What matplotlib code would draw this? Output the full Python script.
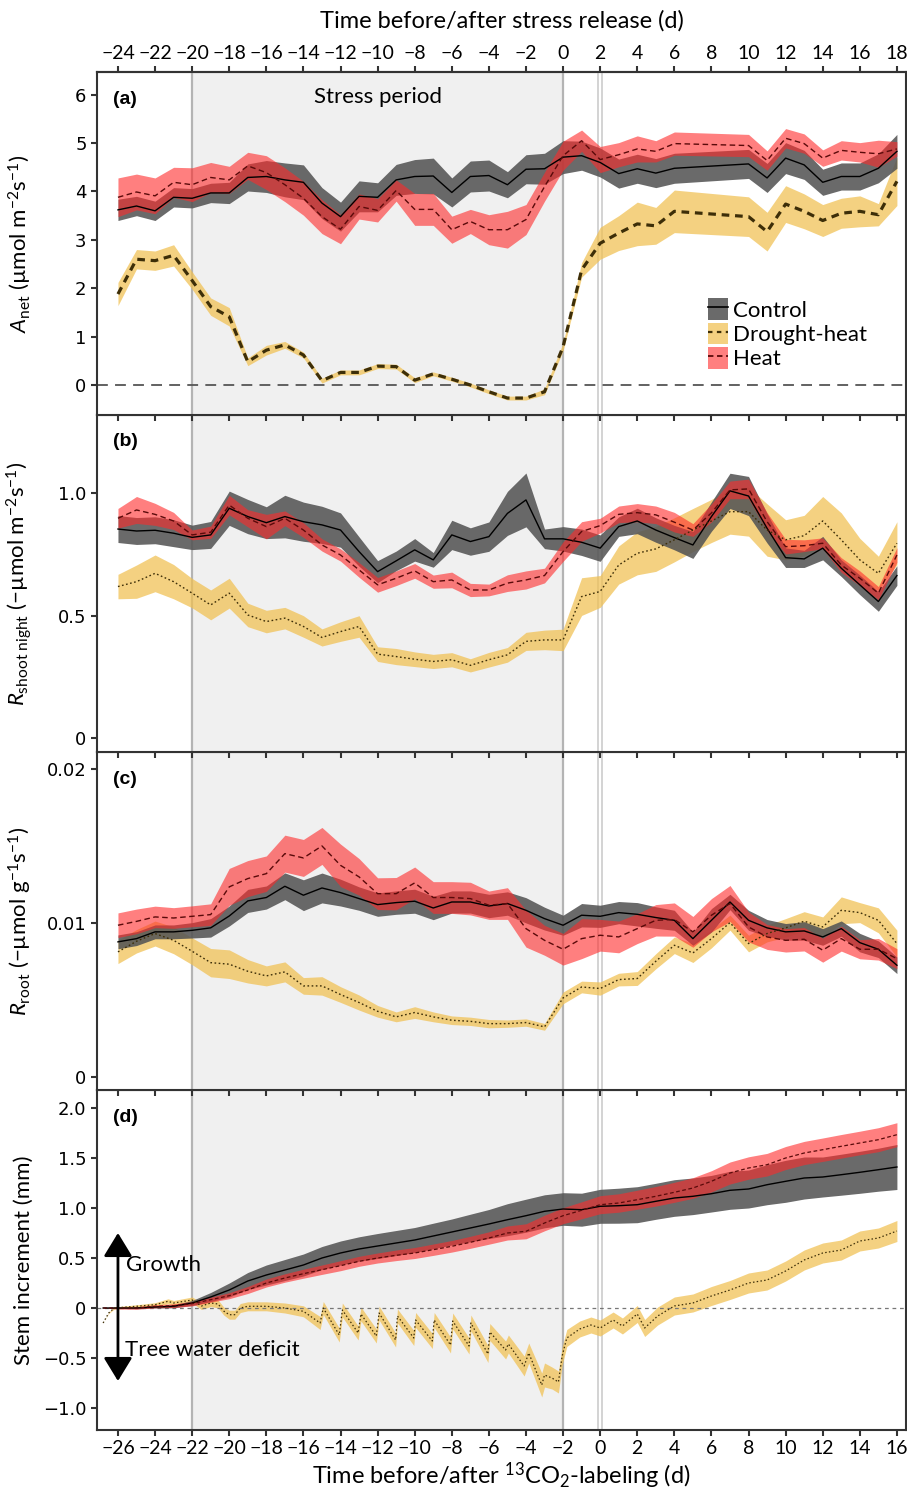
import matplotlib
matplotlib.use('Agg')
import matplotlib.pyplot as plt
import numpy as np
from matplotlib.patches import Patch
from matplotlib.lines import Line2D

plt.rcParams['font.family'] = ['Lato', 'DejaVu Sans']
plt.rcParams['mathtext.fontset'] = 'custom'
plt.rcParams['mathtext.rm'] = 'Lato'
plt.rcParams['mathtext.it'] = 'Lato:italic'
plt.rcParams['mathtext.bf'] = 'Lato:bold'
plt.rcParams['axes.unicode_minus'] = True

# ---------------- data ----------------
# panel (a): net assimilation
days_a = [-26, -25, -24, -23, -22, -21, -20, -19, -18, -17, -16, -15, -14, -13, -12, -11, -10, -9, -8,
          -7, -6, -5, -4, -3, -2, -1, 0, 1, 2, 3, 4, 8, 9, 10, 11, 12, 13, 14, 15, 16]
ctrl_a = [3.62, 3.70, 3.60, 3.88, 3.86, 3.97, 3.97, 4.29, 4.31, 4.24, 4.19, 3.76, 3.48, 3.90, 3.88, 4.24,
          4.31, 4.32, 3.98, 4.31, 4.33, 4.14, 4.46, 4.47, 4.71, 4.74, 4.60, 4.37, 4.47, 4.38, 4.48,
          4.57, 4.28, 4.69, 4.55, 4.19, 4.31, 4.31, 4.48, 4.83]
ctrl_a_err = [0.22, 0.20, 0.20, 0.20, 0.20, 0.20, 0.22, 0.28, 0.33, 0.35, 0.36, 0.32, 0.30, 0.32, 0.30,
              0.32, 0.35, 0.37, 0.30, 0.32, 0.32, 0.27, 0.30, 0.32, 0.34, 0.30, 0.30, 0.30, 0.30, 0.30,
              0.31, 0.30, 0.30, 0.32, 0.30, 0.27, 0.28, 0.28, 0.30, 0.35]
heat_a = [3.88, 3.99, 3.91, 4.19, 4.14, 4.29, 4.24, 4.53, 4.39, 4.14, 3.86, 3.48, 3.22, 3.69, 3.61, 4.02,
          3.63, 3.63, 3.21, 3.38, 3.21, 3.21, 3.42, 4.10, 4.74, 5.05, 4.66, 4.76, 4.88, 4.83, 4.99,
          4.95, 4.64, 5.10, 4.99, 4.69, 4.85, 4.81, 4.78, 4.88]
heat_a_err = [0.40, 0.37, 0.37, 0.31, 0.35, 0.31, 0.28, 0.28, 0.35, 0.35, 0.35, 0.35, 0.30, 0.26, 0.24,
              0.22, 0.33, 0.33, 0.28, 0.25, 0.31, 0.38, 0.31, 0.30, 0.30, 0.22, 0.27, 0.25, 0.27, 0.22,
              0.24, 0.23, 0.20, 0.20, 0.20, 0.17, 0.20, 0.20, 0.28, 0.15]
drou_a = [1.88, 2.60, 2.57, 2.68, 2.16, 1.62, 1.41, 0.48, 0.72, 0.83, 0.62, 0.09, 0.26, 0.26, 0.39, 0.38,
          0.10, 0.23, 0.12, 0.00, -0.14, -0.27, -0.27, -0.14, 0.79, 2.38, 2.93, 3.14, 3.33, 3.29, 3.59,
          3.48, 3.17, 3.74, 3.59, 3.40, 3.55, 3.59, 3.52, 4.21]
drou_a_err = [0.24, 0.20, 0.20, 0.22, 0.18, 0.18, 0.19, 0.08, 0.10, 0.07, 0.06, 0.05, 0.05, 0.05, 0.05,
              0.05, 0.05, 0.04, 0.04, 0.04, 0.04, 0.04, 0.04, 0.06, 0.08, 0.15, 0.33, 0.36, 0.45, 0.38,
              0.44, 0.41, 0.40, 0.38, 0.36, 0.33, 0.31, 0.32, 0.23, 0.50]

# panels (b) and (c): daily
days_bc = list(range(-26, 17))
ctrl_b = [0.854, 0.846, 0.849, 0.837, 0.820, 0.830, 0.939, 0.905, 0.880, 0.905, 0.884, 0.871, 0.850,
          0.762, 0.680, 0.724, 0.769, 0.728, 0.830, 0.803, 0.823, 0.918, 0.973, 0.814, 0.814, 0.800,
          0.776, 0.864, 0.887, 0.850, 0.819, 0.789, 0.905, 1.010, 0.989, 0.857, 0.737, 0.732, 0.776,
          0.694, 0.626, 0.558, 0.664]
ctrl_b_err = [0.055, 0.055, 0.055, 0.055, 0.050, 0.055, 0.070, 0.070, 0.065, 0.087, 0.080, 0.076, 0.070,
              0.060, 0.045, 0.040, 0.046, 0.030, 0.060, 0.056, 0.060, 0.090, 0.110, 0.040, 0.050, 0.054,
              0.054, 0.040, 0.052, 0.050, 0.050, 0.055, 0.060, 0.072, 0.080, 0.060, 0.040, 0.035, 0.048,
              0.034, 0.040, 0.040, 0.040]
heat_b = [0.898, 0.932, 0.914, 0.887, 0.830, 0.841, 0.952, 0.898, 0.864, 0.898, 0.850, 0.789, 0.748,
          0.687, 0.626, 0.653, 0.683, 0.639, 0.646, 0.605, 0.605, 0.633, 0.646, 0.664, 0.762, 0.844,
          0.868, 0.914, 0.921, 0.912, 0.882, 0.850, 0.920, 1.014, 1.018, 0.884, 0.782, 0.786, 0.796,
          0.707, 0.653, 0.592, 0.748]
heat_b_err = [0.040, 0.055, 0.045, 0.035, 0.020, 0.025, 0.040, 0.035, 0.050, 0.030, 0.030, 0.025, 0.025,
              0.030, 0.030, 0.030, 0.030, 0.027, 0.032, 0.027, 0.024, 0.034, 0.037, 0.030, 0.040, 0.040,
              0.030, 0.034, 0.037, 0.036, 0.040, 0.026, 0.037, 0.036, 0.040, 0.037, 0.030, 0.024, 0.022,
              0.030, 0.030, 0.027, 0.030]
drou_b = [0.619, 0.639, 0.673, 0.639, 0.592, 0.544, 0.592, 0.503, 0.476, 0.490, 0.456, 0.411, 0.435,
          0.456, 0.343, 0.333, 0.322, 0.313, 0.320, 0.297, 0.320, 0.340, 0.395, 0.401, 0.401, 0.578,
          0.599, 0.707, 0.755, 0.773, 0.810, 0.850, 0.887, 0.925, 0.925, 0.850, 0.810, 0.827, 0.887,
          0.810, 0.728, 0.673, 0.796]
drou_b_err = [0.050, 0.068, 0.075, 0.070, 0.060, 0.061, 0.061, 0.048, 0.046, 0.044, 0.044, 0.035, 0.040,
              0.044, 0.030, 0.033, 0.030, 0.029, 0.029, 0.027, 0.030, 0.030, 0.037, 0.040, 0.044, 0.077,
              0.065, 0.078, 0.088, 0.092, 0.090, 0.088, 0.088, 0.092, 0.100, 0.107, 0.082, 0.083, 0.100,
              0.110, 0.088, 0.070, 0.088]

# panel (c) values in 1e-3 umol g-1 s-1
ctrl_c = [8.77, 8.98, 9.42, 9.42, 9.52, 9.68, 10.45, 11.43, 11.65, 12.38, 11.80, 12.27, 11.97, 11.58,
          11.19, 11.32, 11.41, 10.97, 11.36, 11.36, 11.10, 11.26, 10.82, 10.28, 9.85, 10.50, 10.43,
          10.67, 10.56, 10.35, 10.17, 8.98, 10.17, 11.36, 10.17, 9.68, 9.42, 9.48, 9.09, 9.63, 8.72,
          8.29, 7.25]
ctrl_c_err = [0.45, 0.45, 0.45, 0.45, 0.50, 0.60, 0.65, 0.75, 0.75, 0.87, 1.00, 0.97, 0.87, 0.76, 0.76,
              0.76, 0.78, 0.76, 0.72, 0.72, 0.76, 0.76, 0.82, 0.74, 0.65, 0.76, 0.72, 0.72, 0.76, 0.70,
              0.65, 0.43, 0.76, 0.50, 0.65, 0.54, 0.54, 0.60, 0.54, 0.50, 0.60, 0.54, 0.54]
heat_c = [9.85, 10.10, 10.39, 10.32, 10.43, 10.54, 12.34, 12.88, 13.20, 14.50, 14.22, 15.00, 13.74,
          12.99, 11.90, 11.90, 12.60, 11.65, 11.65, 11.58, 11.15, 11.26, 9.63, 8.87, 8.29, 8.98, 9.20,
          9.09, 9.63, 10.17, 10.22, 9.42, 10.50, 11.26, 9.74, 9.09, 8.87, 8.94, 8.23, 8.98, 8.29, 8.29,
          7.68]
heat_c_err = [0.80, 0.80, 0.70, 0.67, 0.68, 0.70, 1.20, 1.17, 1.15, 1.20, 1.20, 1.20, 1.38, 1.19, 1.03,
              1.05, 1.03, 1.03, 1.03, 1.06, 0.92, 1.03, 1.20, 0.97, 1.03, 1.30, 1.03, 1.03, 0.97, 1.02,
              1.08, 1.00, 1.08, 1.17, 0.97, 0.81, 0.76, 0.76, 0.78, 0.81, 0.62, 0.70, 0.65]
drou_c = [8.12, 8.81, 9.31, 8.87, 8.16, 7.42, 7.32, 6.86, 6.56, 6.82, 5.91, 5.91, 5.35, 4.83, 4.26, 3.90,
          4.18, 3.90, 3.68, 3.61, 3.46, 3.46, 3.53, 3.25, 5.13, 5.84, 5.74, 6.32, 6.39, 7.51, 8.55, 8.05,
          8.98, 10.02, 8.66, 9.31, 9.68, 10.11, 9.74, 10.82, 10.67, 10.17, 8.66]
drou_c_err = [0.76, 0.76, 0.81, 0.87, 0.87, 0.92, 0.93, 0.76, 0.65, 0.65, 0.54, 0.60, 0.51, 0.49, 0.38,
              0.32, 0.38, 0.32, 0.28, 0.27, 0.27, 0.24, 0.24, 0.22, 0.38, 0.38, 0.43, 0.41, 0.45, 0.49,
              0.54, 0.62, 0.60, 0.49, 0.54, 0.54, 0.60, 0.62, 0.65, 0.87, 0.65, 0.81, 0.87]

# panel (d): stem increment
days_d = [-26.8] + list(range(-26, 17))
ctrl_d = [0.0, 0.0, 0.0, 0.01, 0.017, 0.05, 0.11, 0.18, 0.27, 0.33, 0.38, 0.43, 0.50, 0.55, 0.59, 0.62,
          0.65, 0.68, 0.72, 0.76, 0.80, 0.84, 0.883, 0.923, 0.967, 0.99, 0.983, 1.017, 1.023, 1.033,
          1.067, 1.10, 1.117, 1.143, 1.177, 1.19, 1.233, 1.267, 1.30, 1.31, 1.333, 1.357, 1.383, 1.41]
ctrl_d_err = [0.0, 0.005, 0.008, 0.01, 0.015, 0.025, 0.045, 0.07, 0.085, 0.10, 0.105, 0.11, 0.115, 0.12,
              0.122, 0.125, 0.125, 0.125, 0.128, 0.13, 0.138, 0.145, 0.16, 0.165, 0.165, 0.163, 0.165,
              0.17, 0.175, 0.18, 0.18, 0.183, 0.183, 0.183, 0.19, 0.19, 0.20, 0.21, 0.21, 0.20, 0.205,
              0.21, 0.215, 0.225]
heat_d = [0.0, 0.0, 0.0, 0.017, 0.023, 0.043, 0.083, 0.123, 0.18, 0.25, 0.30, 0.343, 0.383, 0.423, 0.467,
          0.50, 0.527, 0.55, 0.583, 0.617, 0.657, 0.70, 0.75, 0.767, 0.85, 0.923, 0.977, 1.033, 1.05,
          1.083, 1.117, 1.157, 1.20, 1.267, 1.35, 1.40, 1.433, 1.50, 1.55, 1.583, 1.617, 1.65, 1.683, 1.733]
heat_d_err = [0.0, 0.01, 0.012, 0.015, 0.018, 0.022, 0.025, 0.03, 0.035, 0.04, 0.042, 0.045, 0.047, 0.05,
              0.05, 0.05, 0.053, 0.055, 0.057, 0.058, 0.06, 0.062, 0.07, 0.075, 0.078, 0.08, 0.085, 0.09,
              0.092, 0.095, 0.098, 0.10, 0.103, 0.106, 0.11, 0.112, 0.113, 0.115, 0.116, 0.117, 0.118,
              0.118, 0.12, 0.12]
days_dd = [-26.8, -26.5, -26.2, -25.0, -24.0, -23.3, -23.0, -22.0, -21.5, -21.0, -20.6, -20.3, -20.0,
           -19.7, -19.4, -19.0, -18.0, -17.0, -16.0, -15.1, -14.93, -14.07, -13.9, -13.05, -12.9, -12.07,
           -11.92, -11.03, -10.93, -10.05, -9.95, -9.05, -8.95, -8.07, -7.95, -7.07, -6.97, -6.05, -5.95,
           -5.1, -4.95, -4.1, -3.85, -3.15, -3.0, -2.6, -2.25, -2.05, -1.8, -1.1, -0.5, 0.0, 0.7, 1.2,
           2.0, 2.4, 3.1, 4.0, 5.0, 6.0, 7.0, 8.0, 9.0, 10.0, 11.0, 12.0, 13.0, 14.0, 15.0, 16.0]
drou_d = [-0.15, -0.05, 0.0, 0.017, 0.033, 0.067, 0.05, 0.08, 0.02, 0.05, 0.04, -0.03, -0.067, -0.067,
          0.0, 0.017, 0.017, 0.0, -0.033, -0.15, 0.0, -0.27, -0.02, -0.25, -0.06, -0.28, -0.05, -0.32,
          -0.08, -0.30, -0.12, -0.33, -0.12, -0.37, -0.13, -0.38, -0.15, -0.46, -0.24, -0.42, -0.36,
          -0.58, -0.45, -0.77, -0.67, -0.70, -0.74, -0.48, -0.30, -0.21, -0.17, -0.20, -0.12, -0.18,
          -0.06, -0.20, -0.08, 0.02, 0.05, 0.12, 0.18, 0.25, 0.28, 0.37, 0.48, 0.55, 0.58, 0.67, 0.70, 0.77]
drou_d_err = [0.0, 0.005, 0.01, 0.015, 0.02, 0.025, 0.025, 0.03, 0.035, 0.035, 0.04, 0.04, 0.045, 0.045,
              0.045, 0.045, 0.045, 0.05, 0.055, 0.065, 0.065, 0.07, 0.07, 0.07, 0.07, 0.07, 0.07,
              0.07, 0.07, 0.075, 0.075, 0.075, 0.075, 0.08, 0.08, 0.08, 0.08, 0.085, 0.085, 0.09, 0.09,
              0.1, 0.1, 0.12, 0.12, 0.11, 0.11, 0.09, 0.085, 0.08, 0.08, 0.08, 0.08, 0.08, 0.085, 0.085,
              0.09, 0.09, 0.09, 0.095, 0.095, 0.1, 0.1, 0.1, 0.1, 0.1, 0.1, 0.1, 0.1, 0.105]

bottom_ticks = list(range(-26, 17, 2))
top_ticks = list(range(-24, 19, 2))
series_labels = ['Control', 'Drought-heat', 'Heat']

# ---------------- styles ----------------
C_BAND, C_ALPHA = '#555555', 0.88
H_BAND, H_ALPHA = '#ff2a2a', 0.6
D_BAND, D_ALPHA = '#f0c050', 0.72
C_LINE = 'black'
H_LINE = '#5a0a0a'
D_LINE = '#3d2e08'
SPINE = '#333333'


def fmt(v):
    s = ('%g' % v)
    return s.replace('-', '\u2212')


fig = plt.figure(figsize=(9.07, 14.94), dpi=100)
L, W = 97 / 907, 809 / 907


def pos(top, bottom):
    return [L, 1 - bottom / 1494, W, (bottom - top) / 1494]


ax_a = fig.add_axes(pos(72, 415), zorder=4)
ax_b = fig.add_axes(pos(415, 752), zorder=3)
ax_c = fig.add_axes(pos(752, 1090), zorder=2)
ax_d = fig.add_axes(pos(1090, 1430), zorder=1)
axes = [ax_a, ax_b, ax_c, ax_d]

for ax in axes:
    ax.set_xlim(-27.13, 16.49)
    ax.axvspan(-22, -2, color='#f0f0f0', zorder=0, lw=0)
    for xv in (-22, -2):
        ax.axvline(xv, color='#b4b4b4', lw=1.6, zorder=0.5)
    for xv in (-0.12, 0.12):
        ax.axvline(xv, color='#c8c8c8', lw=1.1, zorder=0.5)
    for sp in ax.spines.values():
        sp.set_color(SPINE)
        sp.set_linewidth(1.5)
    ax.set_xticks(bottom_ticks)
    ax.tick_params(axis='both', direction='out', length=4, width=1.5, color=SPINE)
    ax.tick_params(axis='x', labelbottom=False)


def bands(ax, x, m, e, col, alpha, z, scale=1.0):
    m = np.asarray(m) * scale
    e = np.asarray(e) * scale
    ax.fill_between(x, m - e, m + e, color=col, alpha=alpha, lw=0, zorder=z)


# (a)
bands(ax_a, days_a, drou_a, drou_a_err, D_BAND, D_ALPHA, 1)
bands(ax_a, days_a, ctrl_a, ctrl_a_err, C_BAND, C_ALPHA, 2)
bands(ax_a, days_a, heat_a, heat_a_err, H_BAND, H_ALPHA, 3)
ax_a.axhline(0, color='#555555', lw=1.3, dashes=(6, 4), zorder=1.5)
ax_a.plot(days_a, ctrl_a, color=C_LINE, lw=1.0, zorder=5)
ax_a.plot(days_a, heat_a, color=H_LINE, lw=1.0, dashes=(4, 2.5), zorder=5)
ax_a.plot(days_a, drou_a, color=D_LINE, lw=2.3, dashes=(2.4, 1.8), zorder=5)

# (b)
bands(ax_b, days_bc, drou_b, drou_b_err, D_BAND, D_ALPHA, 1)
bands(ax_b, days_bc, ctrl_b, ctrl_b_err, C_BAND, C_ALPHA, 2)
bands(ax_b, days_bc, heat_b, heat_b_err, H_BAND, H_ALPHA, 3)
ax_b.plot(days_bc, ctrl_b, color=C_LINE, lw=1.0, zorder=5)
ax_b.plot(days_bc, heat_b, color=H_LINE, lw=1.0, dashes=(4, 2.5), zorder=5)
ax_b.plot(days_bc, drou_b, color=D_LINE, lw=1.0, dashes=(1.2, 1.8), zorder=5)

# (c)
sc = 1e-3
bands(ax_c, days_bc, drou_c, drou_c_err, D_BAND, D_ALPHA, 1, sc)
bands(ax_c, days_bc, ctrl_c, ctrl_c_err, C_BAND, C_ALPHA, 2, sc)
bands(ax_c, days_bc, heat_c, heat_c_err, H_BAND, H_ALPHA, 3, sc)
ax_c.plot(days_bc, np.asarray(ctrl_c) * sc, color=C_LINE, lw=1.0, zorder=5)
ax_c.plot(days_bc, np.asarray(heat_c) * sc, color=H_LINE, lw=1.0, dashes=(4, 2.5), zorder=5)
ax_c.plot(days_bc, np.asarray(drou_c) * sc, color=D_LINE, lw=1.0, dashes=(1.2, 1.8), zorder=5)

# (d)
bands(ax_d, days_dd, drou_d, drou_d_err, D_BAND, D_ALPHA, 1)
bands(ax_d, days_d, ctrl_d, ctrl_d_err, C_BAND, C_ALPHA, 2)
bands(ax_d, days_d, heat_d, heat_d_err, H_BAND, H_ALPHA, 3)
ax_d.axhline(0, color='#777777', lw=0.9, dashes=(3, 3), zorder=1.5)
ax_d.plot(days_d, ctrl_d, color=C_LINE, lw=1.0, zorder=5)
ax_d.plot(days_d, heat_d, color=H_LINE, lw=0.9, dashes=(3, 2), zorder=5)
ax_d.plot(days_dd, drou_d, color=D_LINE, lw=0.9, dashes=(1.2, 1.8), zorder=5)

# y axes
ax_a.set_ylim(-0.62, 6.47)
ax_a.set_yticks(range(0, 7))
ax_b.set_ylim(-0.057, 1.32)
ax_b.set_yticks([0, 0.5, 1.0])
ax_b.set_yticklabels(['0', '0.5', '1.0'])
ax_c.set_ylim(-0.00085, 0.0211)
ax_c.set_yticks([0, 0.01, 0.02])
ax_c.set_yticklabels(['0', '0.01', '0.02'])
ax_d.set_ylim(-1.22, 2.18)
ax_d.set_yticks([-1.0, -0.5, 0, 0.5, 1.0, 1.5, 2.0])
ax_d.set_yticklabels(['\u22121.0', '\u22120.5', '0', '0.5', '1.0', '1.5', '2.0'])
for ax in axes:
    for lab in ax.get_yticklabels():
        lab.set_family('DejaVu Sans')
        lab.set_fontsize(13)

ylabels = [r'$A_{\mathrm{net}}$ (µmol m$^{-2}$s$^{-1}$)',
           r'$R_{\mathrm{shoot}\ \mathrm{night}}$ (−µmol m$^{-2}$s$^{-1}$)',
           r'$R_{\mathrm{root}}$ (−µmol g$^{-1}$s$^{-1}$)',
           'Stem increment (mm)']
for ax, lab in zip(axes, ylabels):
    ax.set_ylabel(lab, fontsize=16)
    ax.yaxis.set_label_coords(-0.078, 0.5)

for ax, letter in zip(axes, ['(a)', '(b)', '(c)', '(d)']):
    ax.text(0.02, 0.92, letter, transform=ax.transAxes, fontsize=14, fontweight='bold',
            family='Liberation Sans', ha='left', va='center', zorder=10)

# bottom axis
ax_d.tick_params(axis='x', labelbottom=True, labelsize=14)
ax_d.set_xticklabels([fmt(v) for v in bottom_ticks])
ax_d.set_xlabel(r'Time before/after $^{13}$CO$_2$-labeling (d)', fontsize=17, labelpad=2)

# top axis
sec = ax_a.secondary_xaxis('top', functions=(lambda x: x + 2, lambda x: x - 2))
sec.set_xticks(top_ticks)
sec.set_xticklabels([fmt(v) for v in top_ticks])
sec.tick_params(direction='out', length=4, width=1.5, color=SPINE, labelsize=14)
sec.spines['top'].set_color(SPINE)
sec.spines['top'].set_linewidth(1.5)
sec.set_xlabel('Time before/after stress release (d)', fontsize=17, labelpad=12)

ax_a.text(-12, 5.95, 'Stress period', fontsize=16, ha='center', va='center', zorder=10)

handles = [(Patch(facecolor=C_BAND, alpha=C_ALPHA, lw=0), Line2D([], [], color=C_LINE, lw=1.2)),
           (Patch(facecolor=D_BAND, alpha=D_ALPHA, lw=0), Line2D([], [], color=D_LINE, lw=1.6, dashes=(2, 2))),
           (Patch(facecolor=H_BAND, alpha=H_ALPHA, lw=0), Line2D([], [], color=H_LINE, lw=1.3, dashes=(3, 2)))]
ax_a.legend(handles, series_labels, loc='upper left', bbox_to_anchor=(0.755, 0.34), frameon=False,
            fontsize=16, handlelength=0.9, handleheight=1.1, handletextpad=0.25, labelspacing=0.1,
            borderpad=0, borderaxespad=0)

# arrow and annotations on (d)
ax_d.annotate('', xy=(-26, 0.75), xytext=(-26, -0.73),
              arrowprops=dict(arrowstyle='<|-|>,head_width=0.55,head_length=0.9', color='black', lw=2,
                              shrinkA=0, shrinkB=0, mutation_scale=16), zorder=10)
ax_d.text(-25.55, 0.43, 'Growth', fontsize=16, ha='left', va='center', zorder=10)
ax_d.text(-25.6, -0.42, 'Tree water deficit', fontsize=16, ha='left', va='center', zorder=10)

fig.savefig('out.png', dpi=100)
